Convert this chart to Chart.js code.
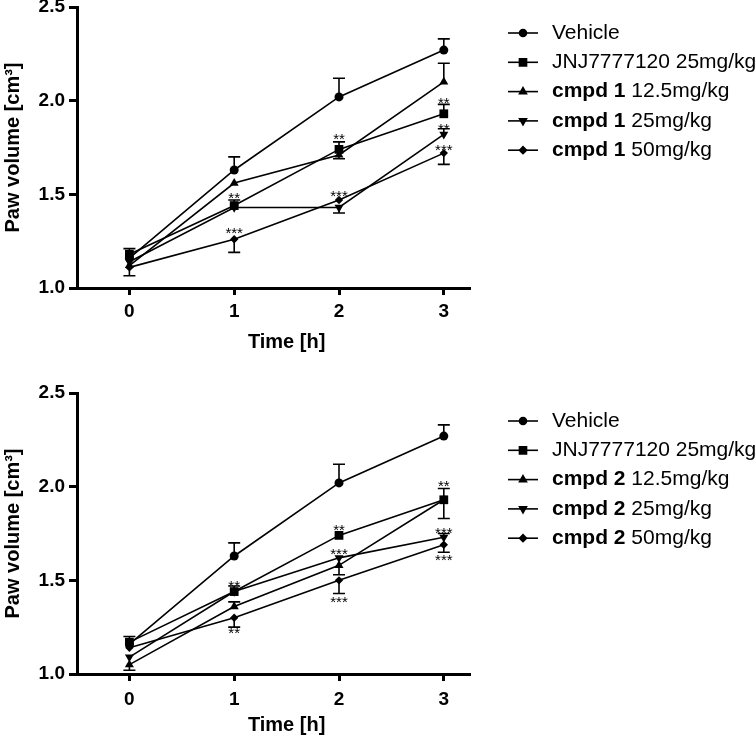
<!DOCTYPE html>
<html>
<head>
<meta charset="utf-8">
<script src="https://cdn.jsdelivr.net/npm/chart.js@4.4.0/dist/chart.umd.min.js"></script>
<style>
  html, body { margin: 0; padding: 0; background: #fff; }
  body { width: 756px; height: 737px; position: relative; overflow: hidden; }
  canvas { position: absolute; left: 0; }
  #chartTop { top: -20px; }
  #chartBottom { top: 370px; }
</style>
</head>
<body>
<canvas id="chartTop" width="756" height="385"></canvas>
<canvas id="chartBottom" width="756" height="367"></canvas>
<script>
const FONT = "'Liberation Sans', Arial, Helvetica, sans-serif";

// x values (hours)
const timeH = [0, 1, 2, 3];
const yTicks = [1.0, 1.5, 2.0, 2.5];

// top panel - cmpd 1
const vehicle1 = [1.16, 1.63, 2.02, 2.27];
const jnj1 = [1.18, 1.44, 1.74, 1.93];
const cmpd1Low = [1.12, 1.56, 1.71, 2.10];
const cmpd1Mid = [1.14, 1.43, 1.43, 1.82];
const cmpd1High = [1.11, 1.26, 1.47, 1.72];
// error bars (only the visible half)
const vehicle1Up = [null, 0.07, 0.10, 0.06];
const jnj1Up = [0.03, 0.03, 0.04, 0.05];
const cmpd1LowUp = [null, null, null, 0.10];
const cmpd1LowDown = [null, null, 0.02, null];
const cmpd1MidUp = [null, null, null, 0.03];
const cmpd1MidDown = [null, null, 0.03, null];
const cmpd1HighDown = [0.045, 0.07, null, 0.06];
// significance marks
const stars1X = [1, 1, 2, 2, 3, 3, 3];
const stars1Y = [1.50, 1.31, 1.815, 1.51, 2.005, 1.87, 1.755];
const stars1Txt = ['**', '***', '**', '***', '**', '**', '***'];

// bottom panel - cmpd 2
const vehicle2 = [1.16, 1.63, 2.02, 2.27];
const jnj2 = [1.17, 1.44, 1.74, 1.93];
const cmpd2Low = [1.05, 1.36, 1.58, 1.93];
const cmpd2Mid = [1.09, 1.44, 1.62, 1.73];
const cmpd2High = [1.14, 1.30, 1.50, 1.69];
const vehicle2Up = [null, 0.07, 0.10, 0.06];
const jnj2Up = [0.03, 0.03, null, 0.06];
const jnj2Down = [null, null, null, 0.10];
const cmpd2LowUp = [null, 0.025, null, null];
const cmpd2LowDown = [0.03, null, 0.05, null];
const cmpd2MidUp = [null, null, null, 0.02];
const cmpd2HighDown = [null, 0.05, 0.07, 0.04];
const stars2X = [1, 1, 2, 2, 2, 3, 3, 3];
const stars2Y = [1.49, 1.235, 1.79, 1.66, 1.405, 2.02, 1.77, 1.625];
const stars2Txt = ['**', '**', '**', '***', '***', '**', '***', '***'];

// legend labels: [bold part, normal part]
const legend1 = [['', 'Vehicle'], ['', 'JNJ7777120 25mg/kg'], ['cmpd 1', ' 12.5mg/kg'], ['cmpd 1', ' 25mg/kg'], ['cmpd 1', ' 50mg/kg']];
const legend2 = [['', 'Vehicle'], ['', 'JNJ7777120 25mg/kg'], ['cmpd 2', ' 12.5mg/kg'], ['cmpd 2', ' 25mg/kg'], ['cmpd 2', ' 50mg/kg']];

// marker style for each series
const markers = [
  { pointStyle: 'circle', radius: 4.5, rotation: 0, legendRadius: 3.5 },
  { pointStyle: 'rect', radius: 6.2, rotation: 0, legendRadius: 5 },
  { pointStyle: 'triangle', radius: 5.2, rotation: 0, legendRadius: 4 },
  { pointStyle: 'triangle', radius: 5.2, rotation: 180, legendRadius: 4 },
  { pointStyle: 'rectRot', radius: 4.2, rotation: 0, legendRadius: 3.5 },
];

function toPoints(vals) {
  return vals.map((v, i) => ({ x: timeH[i], y: v }));
}

// draws error bars, stars, legend and x title
const extras = {
  id: 'extras',
  afterDatasetsDraw(chart, args, opts) {
    const { ctx, scales: { x, y }, chartArea } = chart;
    ctx.save();
    ctx.strokeStyle = '#000';
    ctx.lineWidth = 1.6;

    // error bars
    opts.errors.forEach((err, di) => {
      const vals = chart.data.datasets[di].data;
      ['up', 'down'].forEach((dir) => {
        const arr = err[dir];
        if (!arr) return;
        arr.forEach((e, i) => {
          if (e == null) return;
          const px = x.getPixelForValue(vals[i].x);
          const py = y.getPixelForValue(vals[i].y);
          const end = y.getPixelForValue(dir === 'up' ? vals[i].y + e : vals[i].y - e);
          ctx.beginPath();
          ctx.moveTo(px, py);
          ctx.lineTo(px, end);
          ctx.moveTo(px - 6, end);
          ctx.lineTo(px + 6, end);
          ctx.stroke();
        });
      });
    });

    // significance stars
    ctx.fillStyle = '#000';
    ctx.font = '15px ' + FONT;
    ctx.textAlign = 'center';
    ctx.textBaseline = 'alphabetic';
    opts.starsX.forEach((sx, i) => {
      ctx.fillText(opts.starsTxt[i], x.getPixelForValue(sx), y.getPixelForValue(opts.starsY[i]) + 8.5);
    });

    // x axis title centred over the data range
    ctx.font = 'bold 20px ' + FONT;
    ctx.textBaseline = 'middle';
    const midX = (x.getPixelForValue(timeH[0]) + x.getPixelForValue(timeH[timeH.length - 1])) / 2;
    ctx.fillText('Time [h]', midX, chartArea.bottom + opts.titleOffset);

    // legend
    const lx = 508, tx = 552;
    opts.legend.forEach((lab, i) => {
      const ly = chartArea.top + opts.legendTop + i * 29.3;
      ctx.lineWidth = 1.6;
      ctx.beginPath();
      ctx.moveTo(lx, ly);
      ctx.lineTo(lx + 30, ly);
      ctx.stroke();
      const m = markers[i];
      Chart.helpers.drawPoint(ctx, {
        pointStyle: m.pointStyle, radius: m.legendRadius, rotation: m.rotation, borderWidth: 1,
      }, lx + 15, ly);
      ctx.fill();
      ctx.textAlign = 'left';
      ctx.textBaseline = 'middle';
      let cx = tx;
      if (lab[0]) {
        ctx.font = 'bold 21px ' + FONT;
        ctx.fillText(lab[0], cx, ly);
        cx += ctx.measureText(lab[0]).width;
      }
      ctx.font = '21px ' + FONT;
      ctx.fillText(lab[1], cx, ly);
    });
    ctx.restore();
  },
};

function makeChart(id, series, errors, starsX, starsY, starsTxt, legend, padTop, xHeight, tickPad, titleOffset, legendTop) {
  const datasets = series.map((vals, i) => ({
    data: toPoints(vals),
    borderColor: '#000',
    backgroundColor: '#000',
    borderWidth: 1.6,
    pointStyle: markers[i].pointStyle,
    pointRadius: markers[i].radius,
    pointRotation: markers[i].rotation,
    pointBorderWidth: 0,
    pointBackgroundColor: '#000',
    tension: 0,
    clip: false,
  }));

  return new Chart(document.getElementById(id), {
    type: 'line',
    data: { datasets },
    options: {
      responsive: false,
      animation: false,
      events: [],
      layout: { padding: { top: padTop, right: 286, left: 0, bottom: 0 } },
      plugins: {
        legend: { display: false },
        tooltip: { enabled: false },
        extras: { errors, starsX, starsY, starsTxt, legend, titleOffset, legendTop },
      },
      scales: {
        x: {
          type: 'linear',
          min: -0.5,
          max: 3.25,
          afterBuildTicks: (scale) => { scale.ticks = timeH.map((v) => ({ value: v })); },
          afterFit: (scale) => { scale.height = xHeight; },
          grid: { drawOnChartArea: false, tickLength: 7, tickWidth: 3, tickColor: '#000' },
          border: { color: '#000', width: 3 },
          ticks: { color: '#000', padding: tickPad, font: { family: FONT, size: 19, weight: 'bold' } },
        },
        y: {
          min: 1.0,
          max: 2.5,
          afterBuildTicks: (scale) => { scale.ticks = yTicks.map((v) => ({ value: v })); },
          afterFit: (scale) => { scale.width = 77; },
          grid: { drawOnChartArea: false, tickLength: 8, tickWidth: 3, tickColor: '#000' },
          border: { color: '#000', width: 3 },
          ticks: {
            color: '#000', padding: 4,
            font: { family: FONT, size: 19, weight: 'bold' },
            callback: (v) => v.toFixed(1),
          },
          title: {
            display: true,
            text: 'Paw volume [cm\u00B3]',
            color: '#000',
            padding: { top: 1, bottom: 0 },
            font: { family: FONT, size: 20, weight: 'bold' },
          },
        },
      },
    },
    plugins: [extras],
  });
}

makeChart('chartTop',
  [vehicle1, jnj1, cmpd1Low, cmpd1Mid, cmpd1High],
  [
    { up: vehicle1Up },
    { up: jnj1Up },
    { up: cmpd1LowUp, down: cmpd1LowDown },
    { up: cmpd1MidUp, down: cmpd1MidDown },
    { down: cmpd1HighDown },
  ],
  stars1X, stars1Y, stars1Txt, legend1, 27, 77, 5, 54, 26);

makeChart('chartBottom',
  [vehicle2, jnj2, cmpd2Low, cmpd2Mid, cmpd2High],
  [
    { up: vehicle2Up },
    { up: jnj2Up, down: jnj2Down },
    { up: cmpd2LowUp, down: cmpd2LowDown },
    { up: cmpd2MidUp },
    { down: cmpd2HighDown },
  ],
  stars2X, stars2Y, stars2Txt, legend2, 23, 63, 7, 51, 28);
</script>
</body>
</html>
